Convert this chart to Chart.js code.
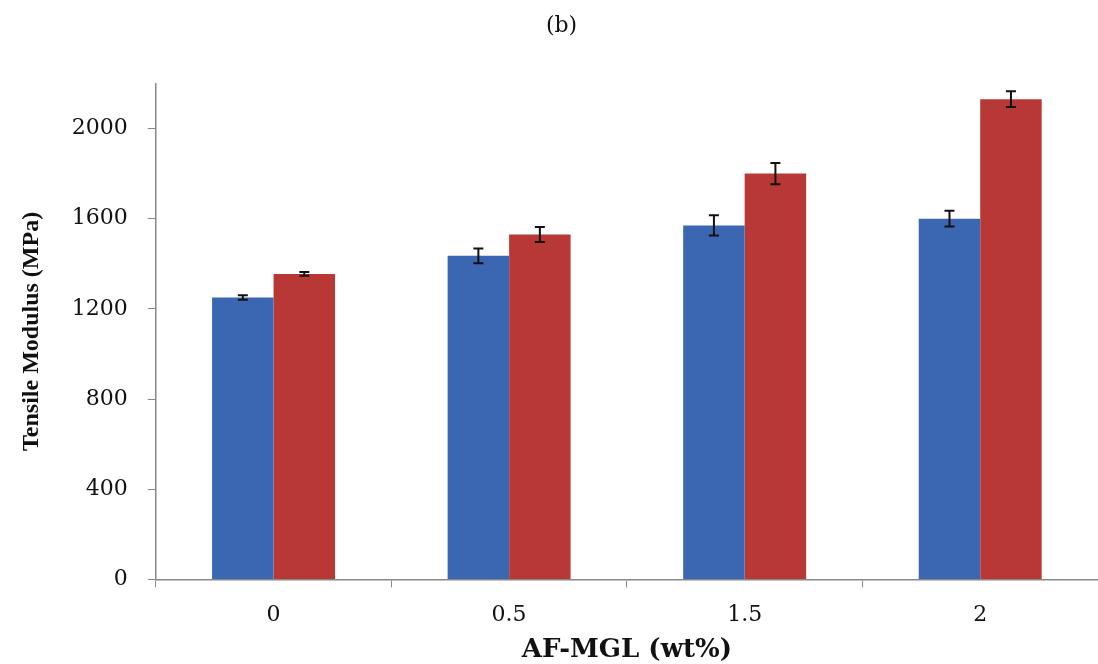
<!DOCTYPE html>
<html>
<head>
<meta charset="utf-8">
<script src="https://cdn.jsdelivr.net/npm/chart.js@4/dist/chart.umd.min.js"></script>
<style>
  html, body { margin: 0; padding: 0; background: #fff; }
  #wrap { width: 1098px; height: 664px; }
</style>
</head>
<body>
<div id="wrap"><canvas id="myChart"></canvas></div>
<script>
const labels = ['0', '0.5', '1.5', '2'];
const blueValues = [1250, 1435, 1570, 1600];
const blueErrors = [10, 33, 45, 35];
const redValues = [1355, 1530, 1800, 2130];
const redErrors = [8, 33, 47, 35];

// draws the error bars on top of the bars
const errorBars = {
  id: 'errorBars',
  afterDatasetsDraw(chart) {
    const ctx = chart.ctx;
    const y = chart.scales.y;
    ctx.save();
    ctx.strokeStyle = '#111';
    ctx.lineWidth = 2;
    chart.data.datasets.forEach((ds, i) => {
      const meta = chart.getDatasetMeta(i);
      meta.data.forEach((bar, j) => {
        const v = ds.data[j], e = ds.errors[j];
        const top = y.getPixelForValue(v + e);
        const bot = y.getPixelForValue(v - e);
        const x = bar.x;
        ctx.beginPath();
        ctx.moveTo(x, top); ctx.lineTo(x, bot);
        ctx.moveTo(x - 5, top); ctx.lineTo(x + 5, top);
        ctx.moveTo(x - 5, bot); ctx.lineTo(x + 5, bot);
        ctx.stroke();
      });
    });
    ctx.restore();
  }
};

const data = {
  labels: labels,
  datasets: [{
    label: 'A',
    backgroundColor: 'rgb(58, 102, 178)',
    data: blueValues,
    errors: blueErrors
  }, {
    label: 'B',
    backgroundColor: 'rgb(184, 56, 54)',
    data: redValues,
    errors: redErrors
  }]
};

const tickFont = { family: 'DejaVu Serif', size: 22 };

const config = {
  type: 'bar',
  data: data,
  plugins: [errorBars],
  options: {
    responsive: true,
    maintainAspectRatio: false,
    animation: false,
    layout: { padding: { left: 17, right: -8, top: 13, bottom: 0 } },
    datasets: { bar: { categoryPercentage: 0.522, barPercentage: 1.0 } },
    plugins: {
      legend: { display: false },
      tooltip: { enabled: false },
      title: {
        display: true,
        text: '(b)',
        color: '#111',
        font: { family: 'DejaVu Serif', size: 22, weight: 'normal' },
        padding: { top: 0, bottom: 44 }
      }
    },
    scales: {
      x: {
        grid: { drawOnChartArea: false, color: '#888', tickLength: 8, tickColor: '#888' },
        border: { color: '#888', width: 1.5 },
        ticks: { color: '#111', font: tickFont, padding: 15 },
        title: {
          display: true,
          text: 'AF-MGL (wt%)',
          color: '#111',
          font: { family: 'DejaVu Serif', size: 26, weight: 'bold' },
          padding: { top: -9, bottom: -2 }
        }
      },
      y: {
        min: 0,
        max: 2200,
        afterBuildTicks: (scale) => { scale.ticks = scale.ticks.filter(t => t.value <= 2000); },
        grid: { drawOnChartArea: false, color: '#888', tickLength: 8, tickColor: '#888' },
        border: { color: '#888', width: 1.5 },
        ticks: { stepSize: 400, color: '#111', font: tickFont, padding: 20, callback: (v) => String(v) },
        title: {
          display: true,
          text: 'Tensile Modulus (MPa)',
          color: '#111',
          font: { family: 'Liberation Serif', size: 24, weight: 'bold' },
          padding: { top: 0, bottom: 6 }
        }
      }
    }
  }
};

new Chart(document.getElementById('myChart'), config);
</script>
</body>
</html>
